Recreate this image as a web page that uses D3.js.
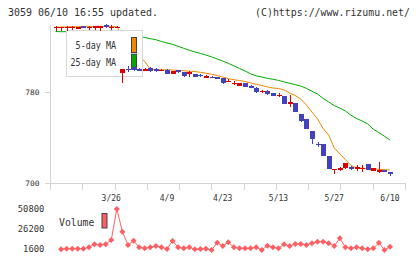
<!DOCTYPE html>
<html>
<head>
<meta charset="utf-8">
<script src="https://cdn.jsdelivr.net/npm/d3@7"></script>
<style>
body { margin: 0; background: #fff; }
svg { display: block; }
</style>
</head>
<body>
<svg id="chart" width="420" height="259"></svg>
<script>
// daily candles, oldest first (61 trading days up to 6/10)
const openP = [836.5, 836.6, 836.8, 836.9, 836.6, 838.1, 836.9, 836.7, 836.6, 839.1, 837.0, 836.8,
  796.8, 800.3, 802.2, 800.2, 798.6, 800.8, 799.9, 799.1, 799.3, 795.8, 799.0, 797.4, 796.1,
  795.6, 795.0, 793.3, 793.6, 793.2, 792.6, 789.3, 786.8, 785.5, 787.6, 785.5, 783.8, 780.6,
  781.1, 778.9, 777.0, 776.5, 769.8, 770.0, 760.7, 756.3, 745.7, 734.4, 734.3, 723.7, 712.0,
  711.6, 712.9, 714.0, 713.4, 712.7, 716.7, 710.8, 710.5, 711.4, 709.9];
const highP = [837.6, 837.4, 837.6, 838.0, 837.5, 838.3, 837.6, 838.3, 838.4, 839.5, 839.0, 837.6,
  800.5, 803.2, 802.5, 801.0, 801.0, 802.4, 801.4, 800.5, 799.8, 798.6, 799.5, 797.6, 798.3,
  796.0, 795.5, 795.3, 794.0, 793.5, 792.7, 791.0, 789.5, 788.0, 787.8, 786.0, 784.0, 781.8,
  782.0, 779.0, 779.1, 776.6, 777.4, 770.5, 761.0, 756.5, 746.0, 736.0, 734.5, 723.8, 712.7,
  714.0, 718.0, 715.0, 715.8, 715.8, 717.0, 713.2, 718.7, 711.5, 710.0];
const lowP = [833.5, 834.0, 833.6, 834.2, 835.0, 836.0, 834.3, 834.2, 834.0, 836.6, 834.3, 836.4,
  788.1, 797.6, 798.8, 799.0, 798.2, 797.6, 797.6, 798.6, 795.5, 795.5, 797.0, 793.2, 793.4,
  793.0, 793.0, 792.0, 792.0, 791.3, 787.0, 788.5, 786.2, 785.3, 784.5, 783.5, 779.5, 779.1,
  777.3, 776.3, 775.6, 769.2, 767.1, 762.5, 753.6, 747.3, 734.3, 731.7, 723.3, 712.1, 708.0,
  710.5, 712.5, 711.5, 710.5, 709.7, 711.0, 710.5, 708.8, 709.3, 706.2];
const closeP = [837.2, 837.2, 837.3, 837.4, 837.1, 836.3, 837.3, 838.0, 838.1, 837.0, 837.4, 837.2,
  800.2, 799.8, 799.6, 799.6, 800.3, 798.5, 798.9, 799.6, 795.9, 798.4, 798.4, 794.4, 797.2,
  793.4, 793.8, 793.9, 792.4, 791.8, 788.2, 789.8, 788.1, 787.6, 784.7, 783.8, 779.7, 781.3,
  778.2, 776.5, 777.8, 769.4, 771.6, 762.7, 754.8, 747.5, 738.4, 733.6, 723.7, 712.3, 712.6,
  713.0, 717.8, 713.0, 714.0, 713.4, 711.4, 712.9, 711.1, 709.4, 707.6];

// moving averages as drawn
const ma5 = [837.1, 837.1, 837.3, 837.4, 837.4, 837.6, 837.7, 837.7, 837.8, 837.6, 837.5, 837.4,
  830.0, 822.0, 815.0, 811.0, 807.0, 800.0, 800.0, 799.5, 799.5, 799.3, 799.0, 798.7, 798.3,
  798.0, 797.3, 796.5, 795.6, 794.5, 793.2, 791.7, 790.8, 790.1, 789.3, 788.0, 786.8, 785.8,
  784.5, 783.5, 783.1, 781.8, 779.1, 776.9, 773.8, 768.6, 762.4, 756.3, 747.9, 742.2, 730.8,
  725.5, 720.7, 715.4, 713.2, 713.0, 712.7, 712.5, 712.0, 711.7, 711.4];
const ma25 = [833.2, 833.0, 833.0, 832.9, 832.8, 832.8, 832.7, 832.6, 832.5, 832.5, 832.4, 832.3,
  831.4, 830.5, 829.7, 828.8, 827.9, 826.9, 826.0, 824.4, 823.1, 821.9, 820.2, 818.4, 816.7,
  815.2, 813.9, 812.5, 810.9, 809.0, 807.2, 805.2, 803.0, 800.7, 798.5, 796.0, 794.2, 793.2,
  792.0, 791.2, 790.2, 788.9, 787.7, 786.5, 785.2, 783.2, 780.7, 778.2, 774.4, 771.2, 768.0,
  765.9, 763.3, 759.6, 756.7, 754.5, 752.0, 747.3, 744.3, 741.1, 737.8];

const volume = [null, 1500, 2200, 2200, 2200, 2200, 3900, 7600, 6700, 7600, 12800, 50600,
  22900, 6700, 11950, 3900, 2700, 3900, 5500, 3900, 1850, 11600, 3900, 2700, 3900,
  1500, 1850, 2100, 630, 9500, 5500, 10000, 3900, 2700, 2700, 2700, 3900, 630,
  5900, 3900, 2700, 7600, 5500, 7900, 7900, 6700, 8800, 10700, 10700, 8800, 5500,
  14900, 3900, 2700, 3900, 2700, 1500, 2700, 9500, 630, 4650];

const dateLabels = ['3/26', '4/9', '4/23', '5/13', '5/27', '6/10'];
const dateIdx = [10, 20, 30, 40, 50, 60];
const priceTicks = [780, 700];
const volTicks = [50800, 26200, 1600];

const RED = '#dd0000', BLUE = '#4242bd', ORANGE = '#ee8800', GREEN = '#00aa00', VOL = '#ff5f62';
const AXIS = '#d4d4d4', TXT = '#333';
const MONO = "'DejaVu Sans Mono', monospace";

const svg = d3.select('#chart');
const n = closeP.length;

const x = d3.scaleLinear().domain([0, n - 1]).range([55.5, 390]);
const y = d3.scaleLinear().domain([700, 780]).range([183, 92]);
const yv = d3.scaleLinear().domain([1600, 50800]).range([249.2, 208.8]);
const gridX = d3.scaleLinear().domain([0, 11]).range([50, 405]);

// header
svg.append('text').attr('x', 8).attr('y', 16)
  .attr('font-family', MONO).attr('font-size', 10.5).attr('fill', TXT)
  .attr('textLength', 150).attr('lengthAdjust', 'spacingAndGlyphs')
  .text('3059 06/10 16:55 updated.');
svg.append('text').attr('x', 410).attr('y', 16).attr('text-anchor', 'end')
  .attr('font-family', MONO).attr('font-size', 10.5).attr('fill', TXT)
  .attr('textLength', 155).attr('lengthAdjust', 'spacingAndGlyphs')
  .text('(C)https://www.rizumu.net/');

// axes
const ax = svg.append('g').attr('stroke', AXIS).attr('stroke-width', 1).attr('shape-rendering', 'crispEdges');
ax.append('line').attr('x1', 50.5).attr('x2', 50.5).attr('y1', 25).attr('y2', 190);
ax.append('line').attr('x1', 45).attr('x2', 406).attr('y1', 183.5).attr('y2', 183.5);
ax.selectAll('.gt').data(d3.range(12)).join('line')
  .attr('x1', d => Math.round(gridX(d)) + 0.5).attr('x2', d => Math.round(gridX(d)) + 0.5)
  .attr('y1', 183).attr('y2', 190);
ax.selectAll('.pt').data(priceTicks).join('line')
  .attr('x1', 45).attr('x2', 50)
  .attr('y1', d => Math.round(y(d)) + 0.5).attr('y2', d => Math.round(y(d)) + 0.5);

svg.selectAll('.plab').data(priceTicks).join('text')
  .attr('x', 39.5).attr('y', d => y(d) + 2.6).attr('text-anchor', 'end')
  .attr('font-family', MONO).attr('font-size', 7.5).attr('fill', TXT)
  .attr('textLength', d => String(d).length * 4.77).attr('lengthAdjust', 'spacingAndGlyphs')
  .text(d => d);

svg.selectAll('.dlab').data(dateLabels).join('text')
  .attr('x', (d, i) => x(dateIdx[i])).attr('y', 201).attr('text-anchor', 'middle')
  .attr('font-family', MONO).attr('font-size', 8).attr('fill', TXT)
  .attr('textLength', d => d.length * 4.83).attr('lengthAdjust', 'spacingAndGlyphs')
  .text(d => d);

// moving averages
const lineOf = arr => d3.line().x((d, i) => x(i)).y(d => y(d))(arr);
svg.append('path').attr('d', lineOf(ma25)).attr('fill', 'none').attr('stroke', GREEN).attr('stroke-width', 1);
svg.append('path').attr('d', lineOf(ma5)).attr('fill', 'none').attr('stroke', ORANGE).attr('stroke-width', 1);

// legend
const lg = svg.append('g');
lg.append('rect').attr('x', 66.5).attr('y', 30.5).attr('width', 76).attr('height', 46)
  .attr('fill', '#fff').attr('stroke', '#d8d8d8');
const legendItems = [['5-day MA', ORANGE], ['25-day MA', GREEN]];
lg.selectAll('text').data(legendItems).join('text')
  .attr('x', 116).attr('y', (d, i) => 49.3 + i * 16.7).attr('text-anchor', 'end')
  .attr('font-family', MONO).attr('font-size', 10.5).attr('fill', TXT)
  .attr('textLength', d => d[0].length * 5.05).attr('lengthAdjust', 'spacingAndGlyphs')
  .text(d => d[0]);
lg.selectAll('.sw').data(legendItems).join('rect')
  .attr('x', 131.5).attr('y', (d, i) => 37.5 + i * 16.7).attr('width', 5).attr('height', 15)
  .attr('fill', d => d[1]).attr('stroke', '#444');

// candles
const cg = svg.append('g').attr('shape-rendering', 'crispEdges');
const idx = d3.range(n);
const col = i => closeP[i] >= openP[i] ? RED : BLUE;
cg.selectAll('.wick').data(idx).join('line')
  .attr('x1', i => Math.round(x(i)) + 0.5).attr('x2', i => Math.round(x(i)) + 0.5)
  .attr('y1', i => y(highP[i])).attr('y2', i => y(lowP[i]))
  .attr('stroke', col);
cg.selectAll('.body').data(idx).join('rect')
  .attr('x', i => Math.round(x(i)) - 2)
  .attr('width', 5)
  .attr('y', i => Math.min(y(openP[i]), y(closeP[i])))
  .attr('height', i => Math.max(1.5, Math.abs(y(openP[i]) - y(closeP[i]))))
  .attr('fill', col);

// volume
const vIdx = idx.filter(i => volume[i] != null);
svg.append('path')
  .attr('d', d3.line().x(i => x(i)).y(i => yv(volume[i]))(vIdx))
  .attr('fill', 'none').attr('stroke', VOL).attr('stroke-width', 1);
svg.selectAll('.vpt').data(vIdx).join('path')
  .attr('d', d3.symbol(d3.symbolSquare, 18)())
  .attr('transform', i => `translate(${x(i)},${yv(volume[i])}) rotate(45)`)
  .attr('fill', VOL);

svg.selectAll('.vlab').data(volTicks).join('text')
  .attr('x', 44.3).attr('y', d => yv(d) + 2.9).attr('text-anchor', 'end')
  .attr('font-family', MONO).attr('font-size', 8).attr('fill', TXT)
  .attr('textLength', d => String(d).length * 5.3).attr('lengthAdjust', 'spacingAndGlyphs')
  .text(d => d);

svg.append('text').attr('x', 59).attr('y', 226)
  .attr('font-family', MONO).attr('font-size', 10.5).attr('fill', TXT)
  .attr('textLength', 35.3).attr('lengthAdjust', 'spacingAndGlyphs')
  .text('Volume');
svg.append('rect').attr('x', 102).attr('y', 213.5).attr('width', 5).attr('height', 14.5)
  .attr('fill', VOL).attr('stroke', '#444');
</script>
</body>
</html>
